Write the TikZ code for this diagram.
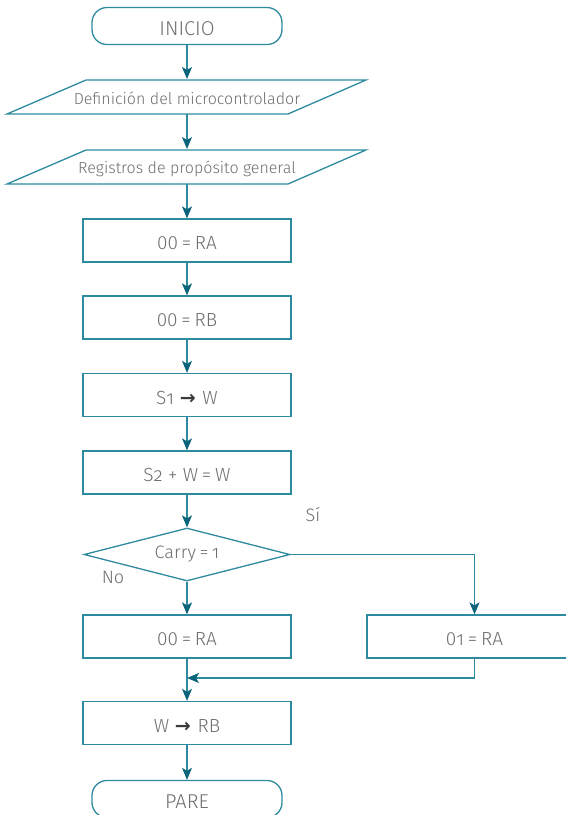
\documentclass[tikz,border=0pt]{standalone}
\usepackage{fontspec}
\setmainfont{Fira Sans Light}
\newfontfamily\arrowfont{DejaVu Sans}
\usetikzlibrary{arrows.meta,shapes.geometric}
\definecolor{flowline}{HTML}{2E8A9E}
\definecolor{flowtip}{HTML}{0B6479}
\definecolor{flowtext}{HTML}{6E6E6E}
\definecolor{flowarrow}{HTML}{3A3A3A}
% old-style digits for register suffixes
\newcommand{\osf}[1]{{\addfontfeature{Numbers=OldStyle}#1}}
% arrow used inside assignment boxes
\newcommand{\goesto}{\hspace{0.3em}{\arrowfont\color{flowarrow}\textbf{→}}\hspace{0.35em}}
% narrow-spaced equals sign
\newcommand{\eq}{\hspace{0.2em}=\hspace{0.2em}}

\begin{document}
\begin{tikzpicture}[x=1pt,y=-1pt,
  line width=1.3pt,
  basictext/.style={text=flowtext, inner sep=0pt},
  stepbox/.style={basictext, draw=flowline, rectangle, minimum width=208pt,
    minimum height=43pt, font=\fontsize{19}{22}\selectfont,
    text height=18.5pt, text depth=0pt},
  terminal/.style={basictext, draw=flowline, rectangle, rounded corners=15pt,
    minimum width=190pt, minimum height=37pt, font=\fontsize{20}{23}\selectfont,
    text height=18pt, text depth=0pt},
  iotext/.style={basictext, minimum width=200pt, minimum height=34pt,
    font=\fontsize{16}{19}\selectfont},
  iobox/.style={draw=flowline},
  decision/.style={basictext, draw=flowline, diamond, aspect=3.9,
    minimum width=206pt, minimum height=53pt, font=\fontsize{18}{21}\selectfont},
  branch/.style={basictext, font=\fontsize{18}{21}\selectfont},
  arr/.style={draw=flowline, -{Stealth[length=12pt, width=10pt, inset=3pt, color=flowtip]}}
]
\clip (0,0) rectangle (566,815);

% start
\node[terminal] (start) at (187,26) {INICIO};

% input/output parallelograms
\draw[iobox] (86,80) -- (366,80) -- (288,114) -- (7,114) -- cycle;
\node[iotext] (io1) at (187,98.5) {Definición del microcontrolador};
\draw[iobox] (86,150) -- (366,150) -- (288,184) -- (7,184) -- cycle;
\node[iotext] (io2) at (187,168.5) {Registros de propósito general};

% process boxes
\node[stepbox] (ra) at (187,240.5) {00\eq RA};
\node[stepbox] (rb) at (187,317.5) {00\eq RB};
\node[stepbox] (sw) at (187,395) {S\osf{1}\goesto W};
\node[stepbox] (sum) at (187,472.5) {S\osf{2} + W\eq W};

% decision
\node[decision] (dec) at (187,554.5) {Carry\eq\osf{1}};
\node[branch] (si) at (313,515) {Sí};
\node[branch] (no) at (113,577) {No};

% branches
\node[stepbox] (z0) at (187,636.5) {00\eq RA};
\node[stepbox, minimum width=215pt] (z1) at (474.5,636.5) {0\osf{1}\eq RA};
\coordinate (merge) at (187,678);

\node[stepbox] (wrb) at (187,723) {W\goesto RB};

% end
\node[terminal] (stop) at (187,799) {PARE};

% connectors
\draw[arr] (start) -- (io1.north |- 0,79);
\draw[arr] (io1.south |- 0,114) -- (io2.north |- 0,149);
\draw[arr] (io2.south |- 0,184) -- (ra);
\draw[arr] (ra) -- (rb);
\draw[arr] (rb) -- (sw);
\draw[arr] (sw) -- (sum);
\draw[arr] (sum) -- (dec);
\draw[arr] (dec.east) -| (z1.north);
\draw[arr] (dec) -- (z0);
\draw[arr] (z1.south) |- (merge);
\draw[arr] (z0) -- (wrb);
\draw[arr] (wrb) -- (stop);
\end{tikzpicture}
\end{document}
